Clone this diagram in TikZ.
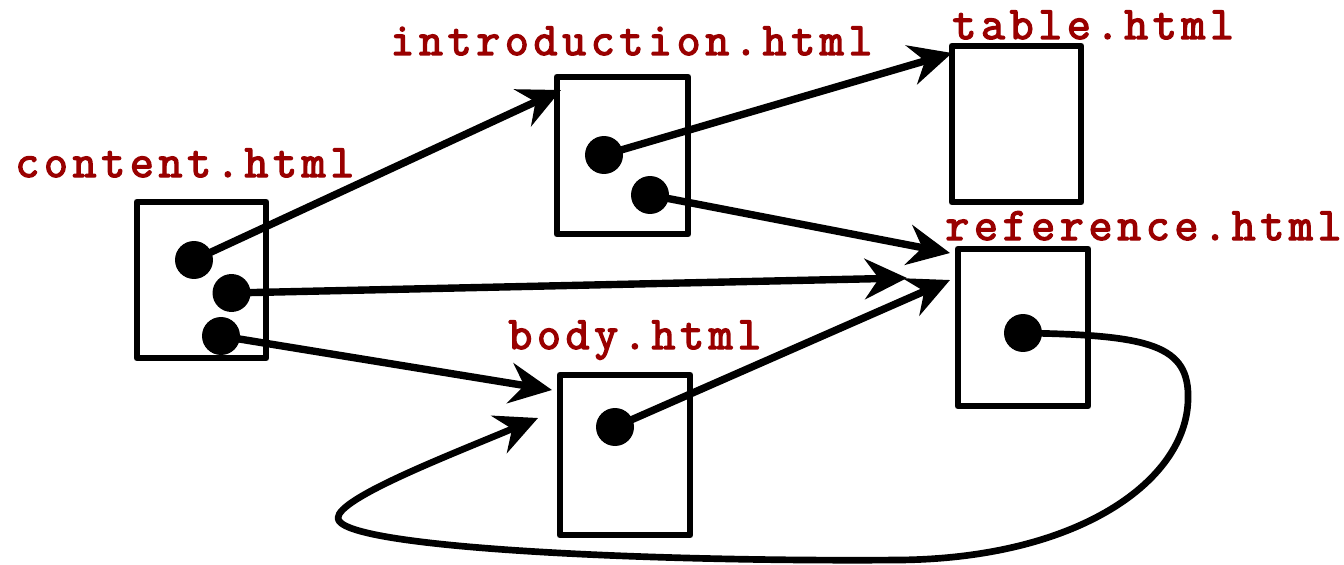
\documentclass[tikz,border=0pt]{standalone}
\usepackage{fontspec}
\newfontfamily\labelfont{Latin Modern Mono}[FakeBold=3, LetterSpace=10]
\usepackage{tikz}
\usetikzlibrary{arrows.meta}
\definecolor{labelred}{RGB}{153,0,0}
\tikzset{
  pagebox/.style={draw, line width=3.9pt, inner sep=0pt, minimum width=2.6cm, minimum height=3.14cm},
  dot/.style={circle, fill=black, inner sep=0pt, minimum size=0.76cm},
  filename/.style={anchor=base west, inner sep=0pt, text=labelred, font=\labelfont\fontsize{26.5}{30}\selectfont},
  link/.style={line width=4.2pt, -{Stealth[length=24pt, width=23pt, inset=8pt]}}
}
\begin{document}
\begin{tikzpicture}[line cap=round,line join=round,x=0.02cm,y=-0.02cm]
        \useasboundingbox (0,0) rectangle (1344,564);
        % pages
        \node [pagebox, minimum width=2.58cm, minimum height=3.12cm] (content) at (201.5,280) {};
        \node [pagebox, minimum width=2.62cm, minimum height=3.14cm] (intro) at (622.5,155.5) {};
        \node [pagebox, minimum width=2.58cm, minimum height=3.12cm] (table) at (1016.5,124) {};
        \node [pagebox, minimum width=2.6cm, minimum height=3.14cm] (reference) at (1023,327.5) {};
        \node [pagebox, minimum width=2.6cm, minimum height=3.2cm] (body) at (625,455) {};
        % file names
        \node [filename] (contentname) at (15,177) {content.html};
        \node [filename] (introname) at (390,55) {introduction.html};
        \node [filename] (tablename) at (952,39) {table.html};
        \node [filename] (referencename) at (945,240) {reference.html};
        \node [filename] (bodyname) at (508,349) {body.html};
        % arrow ends
        \coordinate (tointro) at (561,90);
        \coordinate (totable) at (952,53);
        \coordinate (toref1) at (950,253);
        \coordinate (toref2) at (907,278);
        \coordinate (toref3) at (950,280);
        \coordinate (tobody1) at (552,390);
        \coordinate (tobody2) at (538,418);
        % links
        \draw [link] (194,260) coordinate (c1) -- (tointro);
        \draw [link] (231.5,293) coordinate (c2) -- (toref2);
        \draw [link] (221,336) coordinate (c3) -- (tobody1);
        \draw [link] (604,155) coordinate (i1) -- (totable);
        \draw [link] (650,195) coordinate (i2) -- (toref1);
        \draw [link] (615,427) coordinate (b1) -- (toref3);
        \draw [link, line width=3.8pt] (1023,333) coordinate (r1) .. controls (1150,335) and (1190,345) .. (1188,400)
              .. controls (1186,480) and (1080,558) .. (900,560)
              .. controls (650,562) and (338,548) .. (338,518)
              .. controls (338,498) and (450,455) .. (tobody2);
        % dots
        \node [dot] (cdot1) at (c1) {};
        \node [dot] (cdot2) at (c2) {};
        \node [dot] (cdot3) at (c3) {};
        \node [dot] (idot1) at (i1) {};
        \node [dot] (idot2) at (i2) {};
        \node [dot] (bdot1) at (b1) {};
        \node [dot] (rdot1) at (r1) {};
\end{tikzpicture}
\end{document}
